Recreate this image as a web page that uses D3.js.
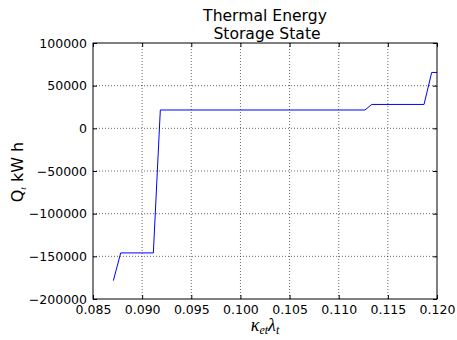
<!DOCTYPE html>
<html>
<head>
<meta charset="utf-8">
<script src="https://cdn.jsdelivr.net/npm/d3@7"></script>
<style>
  body { margin: 0; background: #fff; }
  text { font-family: "DejaVu Sans", sans-serif; fill: #000; }
</style>
</head>
<body>
<div id="container"></div>
<script>
// data
var kappaLambda = [0.08707, 0.08782, 0.09114, 0.09185, 0.11267, 0.11336, 0.11868, 0.11946, 0.1200];
var storageQ = [-178500, -146000, -146000, 21500, 21500, 28000, 28000, 65500, 65500];
var xTicks = [0.085, 0.090, 0.095, 0.100, 0.105, 0.110, 0.115, 0.120];
var yTicks = [-200000, -150000, -100000, -50000, 0, 50000, 100000];

var W = 457, H = 340;
var m = { left: 93, right: 20, top: 43, bottom: 41 };

var svg = d3.select('#container').append('svg')
    .attr('width', W)
    .attr('height', H)
    .style('display', 'block');

var x = d3.scaleLinear().domain([0.085, 0.120]).range([m.left, W - m.right]);
var y = d3.scaleLinear().domain([-200000, 100000]).range([H - m.bottom, m.top]);

var pts = kappaLambda.map((d, i) => [d, storageQ[i]]);

// grid
var grid = svg.append('g');
grid.selectAll('.gx').data(xTicks.slice(1, -1)).enter().append('line')
    .attr('x1', d => x(d)).attr('x2', d => x(d))
    .attr('y1', m.top).attr('y2', H - m.bottom)
    .attr('stroke', '#000').attr('stroke-width', 0.6).attr('stroke-dasharray', '1,2');
grid.selectAll('.gy').data(yTicks.slice(1, -1)).enter().append('line')
    .attr('y1', d => y(d)).attr('y2', d => y(d))
    .attr('x1', m.left).attr('x2', W - m.right)
    .attr('stroke', '#000').attr('stroke-width', 0.6).attr('stroke-dasharray', '1,2');

// line
svg.append('path')
    .datum(pts)
    .attr('d', d3.line().x(d => x(d[0])).y(d => y(d[1])))
    .attr('fill', 'none')
    .attr('stroke', '#0000ff')
    .attr('stroke-width', 1);

// axes, ticks pointing inward like matplotlib classic
var fmtY = d => d < 0 ? '\u2212' + Math.abs(d) : String(d);
var xAxis = svg.append('g').attr('transform', 'translate(0,' + (H - m.bottom) + ')')
    .call(d3.axisBottom(x).tickValues(xTicks).tickFormat(d3.format('.3f')).tickSizeInner(-4).tickSizeOuter(0).tickPadding(6));
var xAxisTop = svg.append('g').attr('transform', 'translate(0,' + m.top + ')')
    .call(d3.axisTop(x).tickValues(xTicks).tickFormat('').tickSizeInner(-4).tickSizeOuter(0));
var yAxis = svg.append('g').attr('transform', 'translate(' + m.left + ',0)')
    .call(d3.axisLeft(y).tickValues(yTicks).tickFormat(fmtY).tickSizeInner(-4).tickSizeOuter(0).tickPadding(6));
var yAxisRight = svg.append('g').attr('transform', 'translate(' + (W - m.right) + ',0)')
    .call(d3.axisRight(y).tickValues(yTicks).tickFormat('').tickSizeInner(-4).tickSizeOuter(0));

svg.selectAll('.domain').remove();
svg.selectAll('.tick line').attr('stroke', '#000');
svg.selectAll('.tick text').style('font-family', '"DejaVu Sans", sans-serif').style('font-size', '12.5px').attr('fill', '#000');

// frame
svg.append('rect')
    .attr('x', m.left).attr('y', m.top)
    .attr('width', W - m.left - m.right).attr('height', H - m.top - m.bottom)
    .attr('fill', 'none').attr('stroke', '#000').attr('stroke-width', 1);

// title
svg.append('text').attr('x', 265).attr('y', 21)
    .attr('text-anchor', 'middle').style('font-size', '15.6px').text('Thermal Energy');
svg.append('text').attr('x', 267).attr('y', 38.5)
    .attr('text-anchor', 'middle').style('font-size', '15.6px').text('Storage State');

// y label
var yl = svg.append('text')
    .attr('transform', 'translate(23,' + 172 + ') rotate(-90)')
    .attr('text-anchor', 'middle').style('font-size', '16px');
yl.append('tspan').text('Q');
yl.append('tspan').attr('dy', 3).style('font-size', '9px').style('font-family', '"Liberation Serif", serif').style('font-style', 'italic').text('t');
yl.append('tspan').attr('dy', -3).text(' kW h');

// x label
var xl = svg.append('text')
    .attr('x', 265).attr('y', 331)
    .attr('text-anchor', 'middle')
    .style('font-family', '"Liberation Serif", serif').style('font-style', 'italic').style('font-size', '18px');
xl.append('tspan').text('\u03ba');
xl.append('tspan').attr('dy', 3).style('font-size', '12px').text('et');
xl.append('tspan').attr('dy', -3).text('\u03bb');
xl.append('tspan').attr('dy', 3).style('font-size', '12px').text('t');
</script>
</body>
</html>
